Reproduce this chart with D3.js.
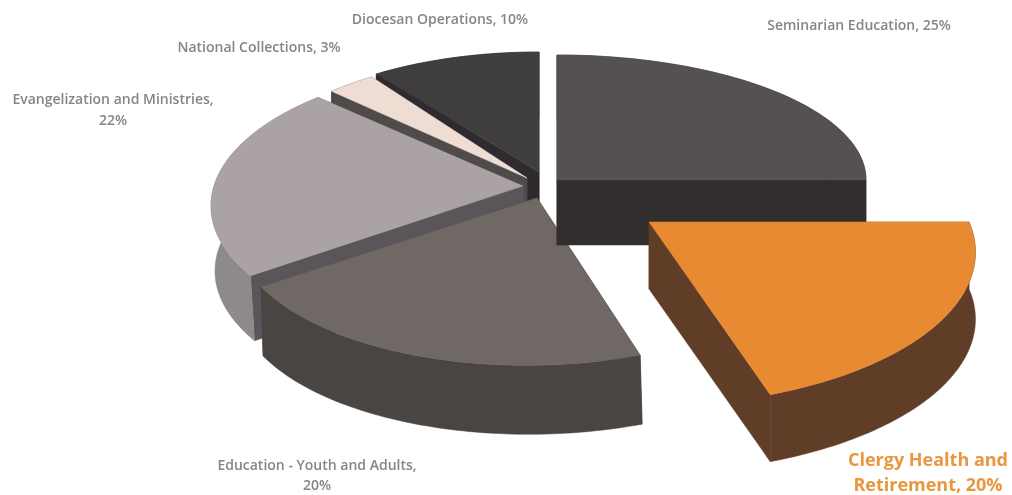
<!DOCTYPE html>
<html><head><meta charset="utf-8">
<script src="https://cdn.jsdelivr.net/npm/d3@7/dist/d3.min.js"></script>
<style>html,body{margin:0;padding:0;background:#fff}svg{display:block}</style>
</head><body><div id="chart"></div>
<script>
const categories = ["Seminarian Education","Clergy Health and Retirement","Education - Youth and Adults","Evangelization and Ministries","National Collections","Diocesan Operations"];
const values = [25,20,20,22,3,10];

// styles and layout (per-slice, same order as categories)
const topColors   = ["#565151","#e78a33","#6f6765","#aba3a3","#efdcd3","#403d3e"];
const wallColors  = ["#302e2e","#5f3c28","#4a4543","#8f8a8a","#4f4b4b","#2f2c2d"];
const edgeColors  = ["#302e2e","#5f3c28","#4a4543","#5a5558","#4f4b4b","#2f2c2d"];
const apexX  = [557,649,537,523,527,539];
const apexY  = [180,222,198,186,178,172];
const radX   = [309,320,294,309,292,288];
const radY   = [125,147,133,141,138,126];
const persp  = [0,0.2,0.205,0.13,0.13,0.05];
const shear  = [0,-0.005,-0.062,-0.02,0,0];
const depth  = [65,67,69,65,65,65];
const depthDx= [0,0,2,4,0,0];
const drawOrder = [5,4,3,2,0,1];

const labelLines = [["Seminarian Education, 25%"],["Clergy Health and","Retirement, 20%"],["Education - Youth and Adults,","20%"],["Evangelization and Ministries,","22%"],["National Collections, 3%"],["Diocesan Operations, 10%"]];
const labelX = [859,928,317,113,259,440];
const labelY = [30,466,470,104,52,24];
const labelStep = [0,24.5,20,21,0,0];
const labelSize = [14,18,14,14,14,14];
const labelWeight = [600,700,600,600,600,600];
const labelColor = ["#858585","#e8973f","#858585","#858585","#858585","#858585"];

const svg = d3.select("#chart").append("svg").attr("width",1012).attr("height",495);
const defs = svg.append("defs");
defs.append("filter").attr("id","soft").append("feGaussianBlur").attr("stdDeviation",0.55);
const root = svg.append("g").attr("filter","url(#soft)");

const arcs = d3.pie().sort(null).value(d=>d)(values);
const project = (i,a,r=1)=>{
  const u = Math.sin(a)*r, v = -Math.cos(a)*r, w = 1-persp[i]*v;
  const y = radY[i]*v/w;
  return [apexX[i]+radX[i]*u/w+shear[i]*y, apexY[i]+y];
};
const drop = (i,p)=>[p[0]+depthDx[i],p[1]+depth[i]];
const line = d3.line();

drawOrder.forEach(i=>{
  const {startAngle:a0,endAngle:a1} = arcs[i];
  const n = Math.max(8,Math.ceil((a1-a0)*60));
  const rim = d3.range(n+1).map(k=>project(i,a0+(a1-a0)*k/n));
  const apex = [apexX[i],apexY[i]];
  const g = root.append("g").attr("class","slice");
  // radial walls
  [rim[0],rim[n]].forEach(p=>{
    g.append("path").attr("d",line([apex,p,drop(i,p),drop(i,apex)])+"Z")
      .attr("fill",edgeColors[i]).attr("stroke",edgeColors[i]).attr("stroke-width",0.5);
  });
  // outer wall
  g.append("path").attr("d",line(rim.concat(rim.slice().reverse().map(p=>drop(i,p))))+"Z")
    .attr("fill",wallColors[i]).attr("stroke",wallColors[i]).attr("stroke-width",0.5);
  // top
  g.append("path").attr("d",line([apex].concat(rim))+"Z")
    .attr("fill",topColors[i]).attr("stroke",topColors[i]).attr("stroke-width",0.5);
});

labelLines.forEach((lines,i)=>{
  const t = root.append("text").attr("text-anchor","middle")
    .attr("font-family","'Open Sans',sans-serif")
    .attr("font-size",labelSize[i]).attr("font-weight",labelWeight[i]).attr("fill",labelColor[i]);
  lines.forEach((s,k)=>t.append("tspan").attr("x",labelX[i]).attr("y",labelY[i]+k*labelStep[i]).text(s));
});
</script></body></html>
